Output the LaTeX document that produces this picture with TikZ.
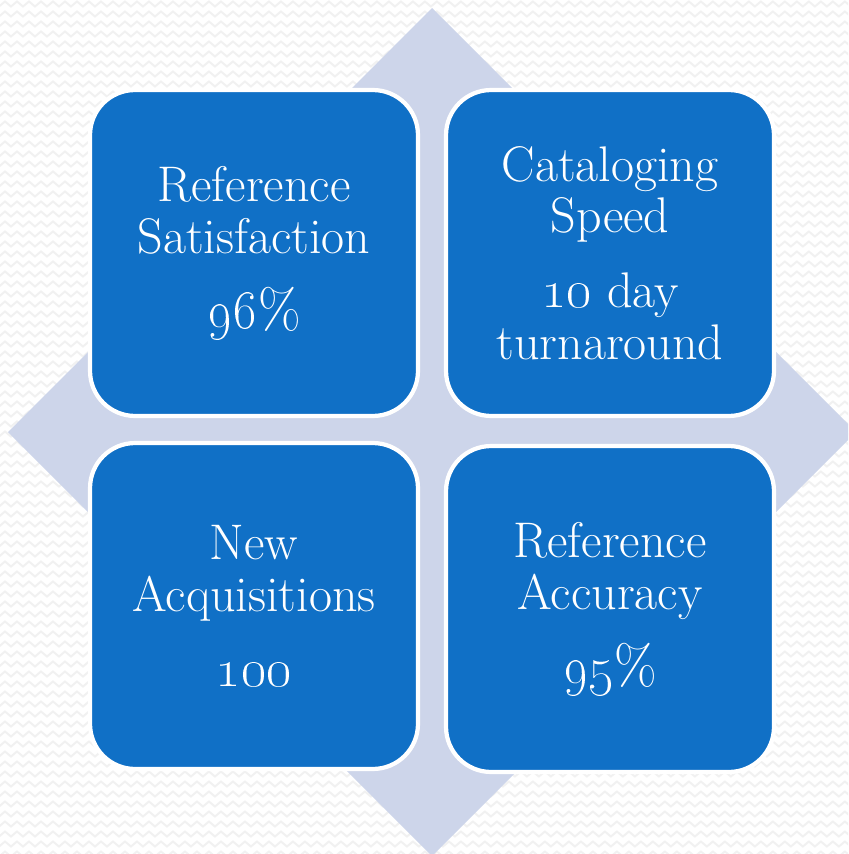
\documentclass[tikz,border=0pt]{standalone}
\usetikzlibrary{decorations.pathmorphing}
\definecolor{tile-blue}{HTML}{1070C6}
\definecolor{diamond-grey}{HTML}{CDD5EA}
\definecolor{paper-zig}{HTML}{F1F1F1}
\tikzset{
  tile/.style={draw=white,line width=2.4pt,fill=tile-blue,rounded corners=0.9cm,
    minimum width=6.56cm,minimum height=6.52cm,text=white,align=center,
    font=\fontsize{28.5}{29.5}\selectfont},
  zig/.style={paper-zig,line width=1.1pt,decorate,
    decoration={zigzag,segment length=0.24cm,amplitude=0.05cm}}
}
\newcommand{\valgap}{\\[13pt]}
\newcommand{\fig}[1]{\scalebox{1.27}{\fontsize{27}{29}\selectfont\oldstylenums{#1}}}

\begin{document}
\begin{tikzpicture}[x=0.02cm,y=-0.02cm]
  \useasboundingbox (0,0) rectangle (848,854);
  \clip (0,0) rectangle (848,854);
  \fill[white] (0,0) rectangle (848,854);
  \foreach \r in {4,14,...,854}
    \draw[zig] (-10,\r) -- (860,\r);
  \fill[diamond-grey] (432,8) -- (856,432) -- (432,856) -- (8,432) -- cycle;
  \node[tile] (satisfaction) at (254,253) {Reference\\Satisfaction\valgap\fig{96}\scalebox{1.1}{\%}};
  \node[tile] (cataloging) at (610,253) {Cataloging\\Speed\valgap\fig{10} day\\turnaround};
  \node[tile] (acquisitions) at (254,606) {New\\Acquisitions\valgap\fig{100}};
  \node[tile] (accuracy) at (610,609) {Reference\\Accuracy\valgap\fig{95}\scalebox{1.1}{\%}};
\end{tikzpicture}
\end{document}
